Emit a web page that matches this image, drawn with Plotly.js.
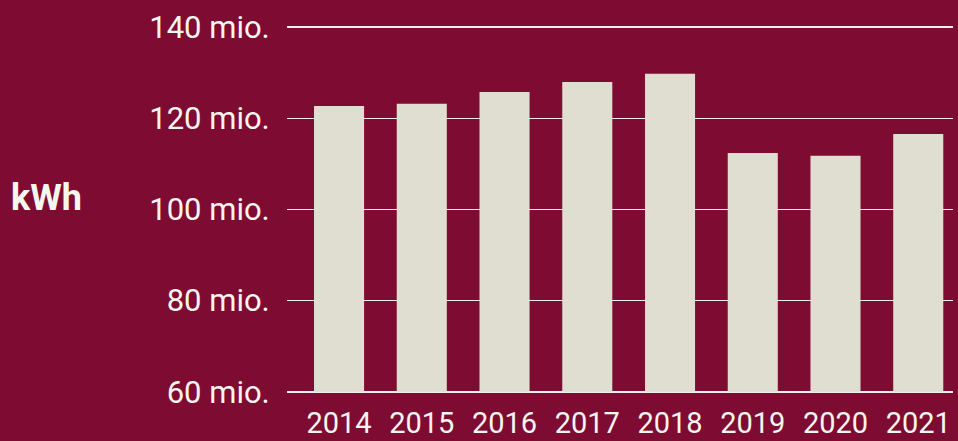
<!DOCTYPE html>
<html>
<head>
<meta charset="utf-8">
<script src="https://cdn.plot.ly/plotly-3.0.1.min.js"></script>
<style>html,body{margin:0;padding:0;background:#7e0c32;}#chart{width:958px;height:441px;}</style>
</head>
<body>
<div id="chart"></div>
<script>
const years = ['2014','2015','2016','2017','2018','2019','2020','2021'];
const values = [122.7, 123.2, 125.8, 128.0, 129.8, 112.4, 111.8, 116.6];
const tickValues = [60, 80, 100, 120, 140];
const tickLabels = ['60 mio.', '80 mio.', '100 mio.', '120 mio.', '140 mio.'];
const unitLabel = 'kWh';

const bg = '#7e0c32';
const barColor = '#e0ded1';
const textColor = '#f7f5ef';
const fontFamily = 'Roboto, "Open Sans", sans-serif';

const axisMin = 60, axisMax = 140, axisPad = 0.5;
const pxPerUnit = 4.55;
const plotLeft = 287, plotRight = 953;
const plotWidth = plotRight - plotLeft;
const plotTop = 27.5 - axisPad * pxPerUnit;
const plotBottom = 391.5 + axisPad * pxPerUnit;
const plotHeight = plotBottom - plotTop;

const trace = {
  type: 'bar',
  x: years.map((_, i) => i),
  y: values.map(v => v - axisMin),
  base: axisMin,
  marker: {color: barColor, line: {width: 0}},
  hoverinfo: 'none'
};

const layout = {
  width: 958,
  height: 441,
  paper_bgcolor: bg,
  plot_bgcolor: bg,
  margin: {l: plotLeft, r: 958 - plotRight, t: plotTop, b: 441 - plotBottom, pad: 0},
  bargap: 0.395,
  showlegend: false,
  font: {family: fontFamily, color: textColor, size: 31},
  xaxis: {
    range: [-0.629, 7.42],
    tickvals: years.map((_, i) => i),
    ticktext: years,
    showgrid: false,
    zeroline: false,
    showline: false,
    ticks: 'outside',
    ticklen: 3,
    tickcolor: 'rgba(0,0,0,0)',
    tickfont: {family: fontFamily, size: 29, color: textColor},
    automargin: false,
    fixedrange: true
  },
  yaxis: {
    range: [axisMin - axisPad, axisMax + axisPad],
    tickvals: tickValues,
    ticktext: tickLabels,
    showgrid: true,
    gridcolor: 'rgba(255,255,255,0.92)',
    gridwidth: 1.6,
    zeroline: false,
    showline: false,
    ticks: 'outside',
    ticklen: 10,
    tickcolor: 'rgba(0,0,0,0)',
    tickfont: {family: fontFamily, size: 31, color: textColor},
    automargin: false,
    fixedrange: true
  },
  annotations: [{
    text: '<b>' + unitLabel + '</b>',
    xref: 'paper', yref: 'paper',
    x: (9 - plotLeft) / plotWidth,
    y: (plotBottom - 198) / plotHeight,
    xanchor: 'left', yanchor: 'middle',
    showarrow: false,
    font: {family: fontFamily, size: 36, color: textColor}
  }]
};

Plotly.newPlot('chart', [trace], layout, {staticPlot: true, displayModeBar: false});
</script>
</body>
</html>
